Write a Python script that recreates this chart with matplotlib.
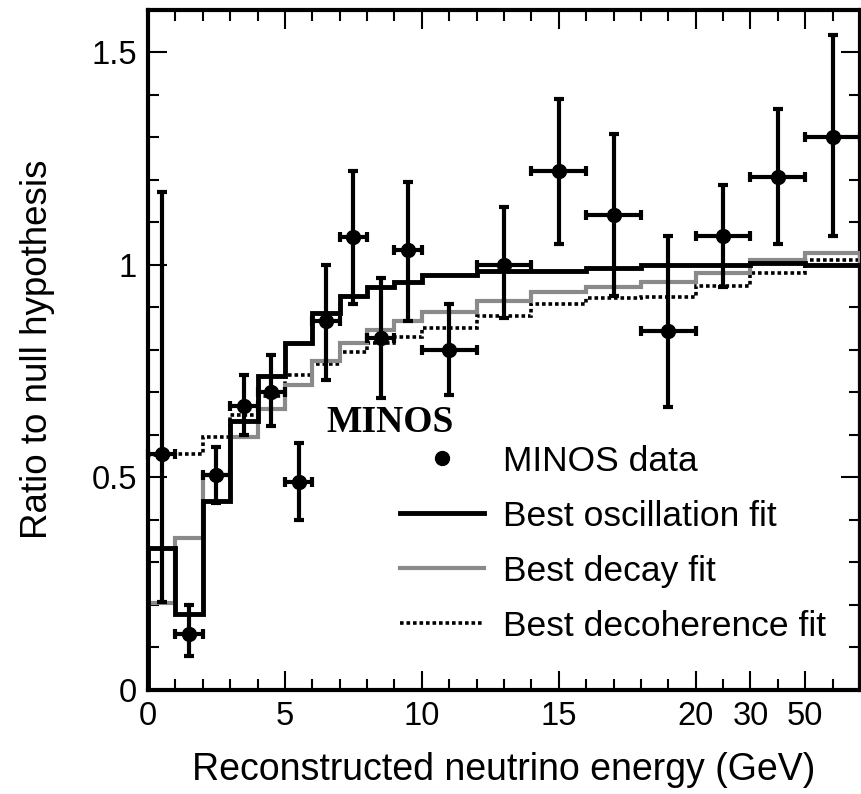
import matplotlib
matplotlib.use('Agg')
import matplotlib.pyplot as plt
from matplotlib.lines import Line2D
from matplotlib.ticker import FixedLocator, MultipleLocator

plt.rcParams['font.family'] = ['Liberation Sans', 'DejaVu Sans']

# bin edges on the display axis (after 20 GeV each display bin covers 20-30, 30-50, 50+)
edges = [0, 1, 2, 3, 4, 5, 6, 7, 8, 9, 10, 12, 14, 16, 18, 20, 22, 24, 26]
x_ticks = [0, 5, 10, 15, 20, 22, 24]
x_labels = ['0', '5', '10', '15', '20', '30', '50']

# MINOS data points
data_x = [0.5, 1.5, 2.5, 3.5, 4.5, 5.5, 6.5, 7.5, 8.5, 9.5, 11, 13, 15, 17, 19, 21, 23, 25]
data_xerr = [0.5] * 10 + [1] * 8
data_y = [0.553, 0.13, 0.504, 0.668, 0.701, 0.489, 0.866, 1.065, 0.828, 1.033,
          0.80, 1.0, 1.219, 1.117, 0.843, 1.066, 1.205, 1.301]
data_hi = [1.17, 0.20, 0.57, 0.739, 0.786, 0.579, 1.0, 1.221, 0.969, 1.195,
           0.908, 1.136, 1.39, 1.306, 1.066, 1.186, 1.365, 1.539]
data_lo = [0.205, 0.078, 0.44, 0.598, 0.619, 0.40, 0.729, 0.908, 0.687, 0.866,
           0.694, 0.875, 1.049, 0.927, 0.664, 0.948, 1.049, 1.066]

# fits (one value per bin)
osc = [0.334, 0.177, 0.443, 0.631, 0.737, 0.816, 0.886, 0.925, 0.947, 0.96,
       0.976, 0.984, 0.985, 0.992, 0.998, 1.0, 1.003, 1.0]
decay = [0.203, 0.357, 0.505, 0.595, 0.66, 0.717, 0.772, 0.816, 0.845, 0.866,
         0.889, 0.913, 0.936, 0.948, 0.96, 0.98, 1.01, 1.027]
decoh = [0.551, 0.553, 0.593, 0.645, 0.69, 0.739, 0.765, 0.793, 0.815, 0.83,
         0.851, 0.88, 0.906, 0.922, 0.924, 0.95, 0.98, 1.01]

fig = plt.figure(figsize=(8.62, 7.94), dpi=100)
ax = fig.add_axes([148 / 862, 1 - 689.5 / 794, 712 / 862, 680 / 794])

ax.stairs(decoh, edges, color='black', lw=2.6, linestyle=(0, (1, 0.8)), zorder=2)
ax.stairs(decay, edges, color='#8a8a8a', lw=3, zorder=3)
ax.stairs(osc, edges, color='black', lw=3.5, zorder=4)

yerr = [[y - lo for y, lo in zip(data_y, data_lo)],
        [hi - y for y, hi in zip(data_y, data_hi)]]
ax.errorbar(data_x, data_y, xerr=data_xerr, yerr=yerr, fmt='o', color='black',
            ms=10, elinewidth=3, capsize=3.5, capthick=3, zorder=5, clip_on=False)

ax.set_xlim(0, 26)
ax.set_ylim(0, 1.6)
ax.xaxis.set_major_locator(FixedLocator(x_ticks))
ax.set_xticklabels(x_labels)
ax.xaxis.set_minor_locator(MultipleLocator(1))
ax.set_yticks([0, 0.5, 1, 1.5])
ax.set_yticklabels(['0', '0.5', '1', '1.5'])
ax.yaxis.set_minor_locator(MultipleLocator(0.1))
ax.tick_params(which='both', direction='in', top=True, right=True, width=1.5)
ax.tick_params(which='major', length=14, labelsize=23.5, pad=8)
ax.tick_params(which='minor', length=8)
for s in ax.spines.values():
    s.set_linewidth(3)

ax.set_xlabel('Reconstructed neutrino energy (GeV)', fontsize=27, labelpad=15)
ax.set_ylabel('Ratio to null hypothesis', fontsize=26.5, labelpad=26)

ax.text(6.5, 0.606, 'MINOS', fontsize=27, fontweight='bold',
        family=['Liberation Serif', 'DejaVu Serif'])

handles = [
    Line2D([], [], color='black', marker='o', ms=10, linestyle='none'),
    Line2D([], [], color='black', lw=3.5),
    Line2D([], [], color='#8a8a8a', lw=3),
    Line2D([], [], color='black', lw=2.6, linestyle=(0, (1, 0.8))),
]
labels = ['MINOS data', 'Best oscillation fit', 'Best decay fit', 'Best decoherence fit']
ax.legend(handles, labels, loc='upper left', bbox_to_anchor=(0.354, 0.36),
          frameon=False, fontsize=25.5, handlelength=2.37, handletextpad=0.54,
          labelspacing=0.62, borderpad=0, borderaxespad=0)

fig.savefig('out.png', dpi=100)
